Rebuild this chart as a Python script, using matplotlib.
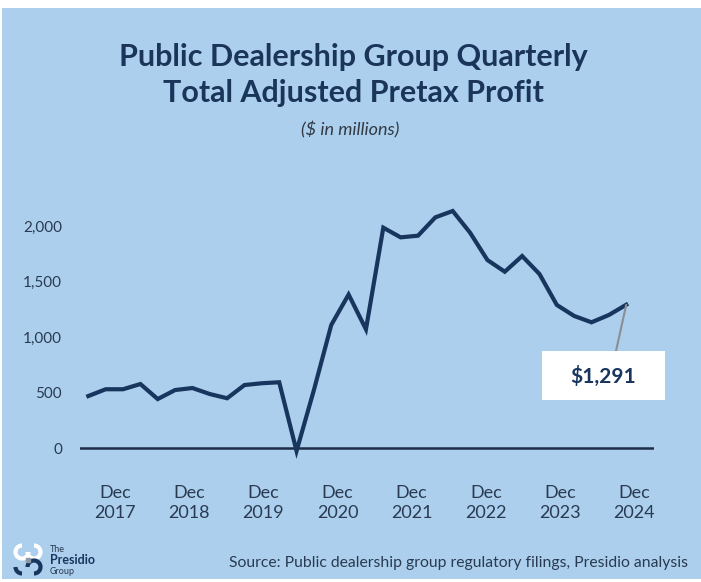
import numpy as np
import matplotlib.pyplot as plt
from matplotlib.patches import Rectangle, Arc

# quarterly total adjusted pretax profit, $ millions
profit = [470, 531, 531, 578, 443, 524, 542, 488,
          450, 569, 585, 594, -24, 524, 1109, 1383,
          1070, 1984, 1897, 1912, 2077, 2134, 1939, 1693,
          1588, 1729, 1567, 1289, 1190, 1133, 1199, 1291]
years = ["2017", "2018", "2019", "2020", "2021", "2022", "2023", "2024"]
yticks = [0, 500, 1000, 1500, 2000]

BG = "#abcfec"
NAVY = "#17355d"
TXT = "#2a3a52"

plt.rcParams["font.family"] = ["Lato", "DejaVu Sans"]

W, H = 701, 582
fig = plt.figure(figsize=(W / 100, H / 100), dpi=100)
fig.patch.set_facecolor("white")
fig.patches.append(Rectangle((2 / W, 3 / H), 1 - 2 / W, 1 - 11 / H,
                             transform=fig.transFigure, facecolor=BG,
                             edgecolor="none", zorder=-5))

def px(x, y):
    return x / W, 1 - y / H

# pixel -> value scale of the reference
ZERO, SCALE = 448.3, 0.1112

ax = fig.add_axes([80 / W, 1 - 460 / H, 574 / W, 260 / H])
ax.set_facecolor("none")
x = np.arange(len(profit))
ax.plot(x, profit, color=NAVY, lw=3.0, solid_joinstyle="miter", zorder=3)
ax.axhline(0, color="#1f2d48", lw=1.8, zorder=2)

ax.set_xlim(-0.48, 32.6)
ax.set_ylim((ZERO - 460) / SCALE, (ZERO - 200) / SCALE)
for s in ax.spines.values():
    s.set_visible(False)

ax.set_yticks(yticks)
ax.set_yticklabels([f"{v:,}" for v in yticks])
ax.set_xticks(np.linspace(1.54, 31.45, len(years)))
ax.set_xticklabels([f"Dec\n{y}" for y in years], linespacing=1.3)
ax.tick_params(axis="y", length=0, pad=13, labelsize=11, labelcolor=TXT)
ax.tick_params(axis="x", length=0, pad=18, labelsize=13, labelcolor=TXT)

# title block
fig.text(*px(353, 57), "Public Dealership Group Quarterly", ha="center",
         va="center", fontsize=22, fontweight="bold", color="#1b3459")
fig.text(*px(353, 93), "Total Adjusted Pretax Profit", ha="center",
         va="center", fontsize=22, fontweight="bold", color="#1b3459")
fig.text(*px(350, 130), "($ in millions)", ha="center", va="center",
         fontsize=13, style="italic", color="#333a45")

# callout for latest value
fig.patches.append(Rectangle(px(542, 400), 123 / W, 49 / H,
                             transform=fig.transFigure, facecolor="white",
                             edgecolor="none", zorder=5))
fig.text(*px(603, 376), f"${profit[-1]:,}", ha="center", va="center",
         fontsize=15, fontweight="bold", color=NAVY, zorder=6)
ax.annotate("", xy=(x[-1], profit[-1]), xytext=px(616, 351),
            textcoords="figure fraction",
            arrowprops=dict(arrowstyle="-", color="#8a8f96", lw=1.5,
                            shrinkA=0, shrinkB=0))

# source line
fig.text(*px(688, 563), "Source: Public dealership group regulatory filings, Presidio analysis",
         ha="right", va="center", fontsize=11.3, color=TXT)

# logo
lax = fig.add_axes([13 / W, 1 - 577 / H, 30 / W, 35 / H])
lax.set_xlim(0, 30)
lax.set_ylim(0, 35)
lax.axis("off")
for (cx, cy, t1, t2, c) in [(9, 25, 90, 360, "white"), (21, 25, 180, 90, "white"),
                            (9, 10, 180, 270, NAVY), (21, 10, 270, 180, NAVY)]:
    lax.add_patch(Arc((cx, cy), 13, 13, theta1=t1, theta2=t2, color=c, lw=3))
lax.add_patch(Rectangle((13, 15.5), 4, 4, color="#8d99a8"))
fig.text(*px(50, 549), "The", fontsize=6.5, color=TXT, va="center")
fig.text(*px(50, 560), "Presidio", fontsize=9, fontweight="bold", color=NAVY, va="center")
fig.text(*px(50, 571), "Group", fontsize=6.5, color=TXT, va="center")

fig.savefig("out.png", dpi=100, facecolor=fig.get_facecolor())
